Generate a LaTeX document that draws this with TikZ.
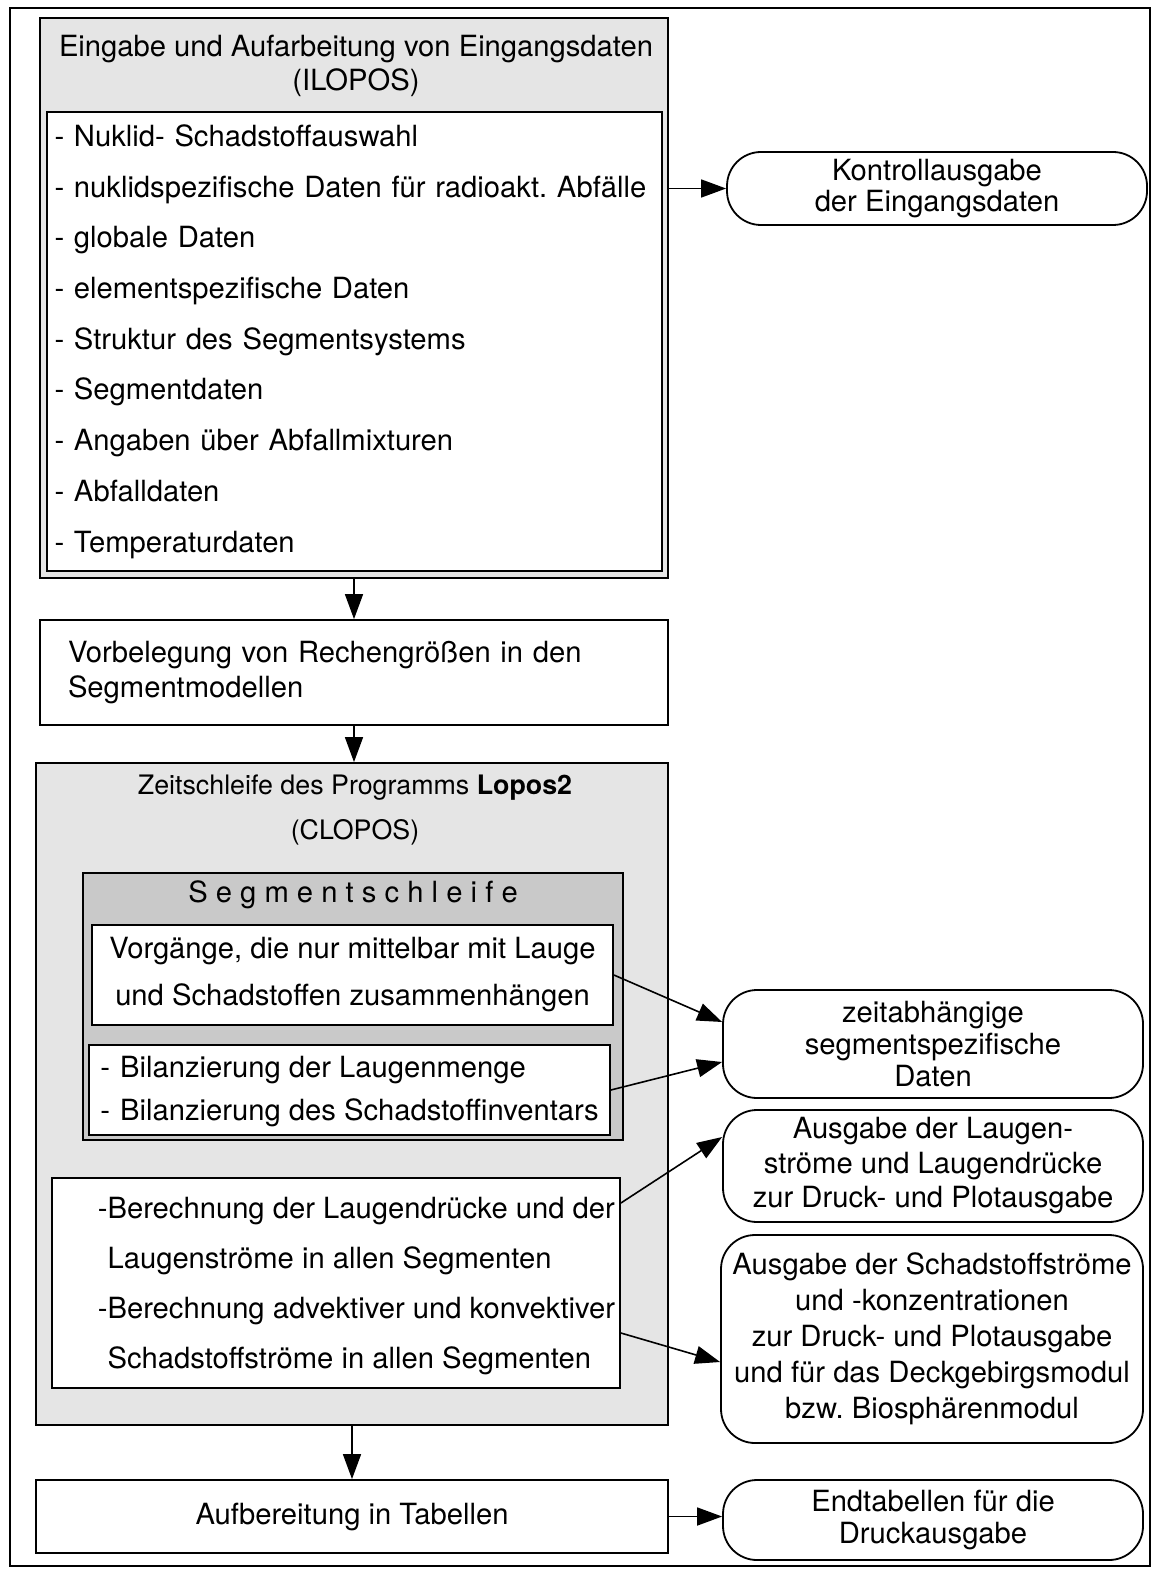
\documentclass[tikz,border=0pt]{standalone}
\usepackage{fontspec}
\setmainfont{TeX Gyre Heros}
\usetikzlibrary{arrows.meta}
\frenchspacing

\begin{document}
\begin{tikzpicture}[
  x=0.5pt,y=-0.5pt,
  frame/.style={draw,line width=1.4pt},
  shadebox/.style={draw,line width=0.9pt,fill=gray!20,inner sep=0pt},
  darkbox/.style={draw,line width=0.9pt,fill=gray!42,inner sep=0pt},
  whitebox/.style={draw,line width=0.9pt,fill=white,inner sep=0pt},
  outbox/.style={draw,line width=0.9pt,rounded corners=17pt,align=center,inner sep=0pt},
  txt/.style={font=\fontsize{14.6}{#1}\selectfont,inner sep=0pt},
  txt/.default=17pt,
  arr/.style={-{Triangle[length=12.5pt,width=9pt]},line width=0.8pt}
]
\useasboundingbox (0,0) rectangle (1154,1572);
\draw[frame] (10,8) rectangle (1150,1566);

% Eingabe (ILOPOS)
\node[shadebox,minimum width=314pt,minimum height=280pt] (ilopos) at (354,298) {};
\node[txt=17pt,align=center] (ilopostitle) at (356,66) {Eingabe und Aufarbeitung von Eingangsdaten\\(ILOPOS)};
\node[whitebox,txt=25.35pt,align=left,text width=300pt,inner xsep=3.75pt,minimum height=229.5pt] (inputs) at (354.5,341.5)
  {- Nuklid- Schadstoffauswahl\\
   - nuklidspezifische Daten für radioakt. Abfälle\\
   - globale Daten\\
   - elementspezifische Daten\\
   - Struktur des Segmentsystems\\
   - Segmentdaten\\
   - Angaben über Abfallmixturen\\
   - Abfalldaten\\
   - Temperaturdaten};
\node[outbox,txt=15.5pt,minimum width=210pt,minimum height=36.5pt] (kontroll) at (937,188.5) {Kontrollausgabe\\der Eingangsdaten};

% Vorbelegung
\node[whitebox,txt=17.5pt,align=left,text width=286pt,inner xsep=14pt,minimum height=52.5pt] (vorbel) at (354,672.5)
  {Vorbelegung von Rechengrößen in den\\Segmentmodellen};

% Zeitschleife (CLOPOS)
\node[shadebox,minimum width=316pt,minimum height=331pt] (clopos) at (352,1094) {};
\node[font=\fontsize{13.4}{22.5pt}\selectfont,align=center,inner sep=0pt] (clopostitle) at (355,810)
  {Zeitschleife des Programms \textbf{Lopos2}\\(CLOPOS)};

% Segmentschleife
\node[darkbox,minimum width=270pt,minimum height=133.5pt] (segloop) at (353,1006.5) {};
\node[txt] (segtitle) at (353,895) {S e g m e n t s c h l e i f e};
\node[whitebox,txt=23.5pt,align=center,minimum width=260.5pt,minimum height=50pt] (vorgaenge) at (352.5,975)
  {Vorgänge, die nur mittelbar mit Lauge\\und Schadstoffen zusammenhängen};
\node[whitebox,txt=21.5pt,minimum width=260.5pt,minimum height=45pt] (bilanz) at (349.5,1090)
  {\begin{tabular}{@{}l@{\hspace{5pt}}l@{}}
   -&Bilanzierung der Laugenmenge\\
   -&Bilanzierung des Schadstoffinventars
   \end{tabular}};

% Berechnung
\node[whitebox,txt=25pt,minimum width=284pt,minimum height=105pt] (calc) at (336,1283)
  {\begin{tabular}{@{\hspace{22pt}}l@{}l@{\hspace{1.5pt}}}
   -&Berechnung der Laugendrücke und der\\
    &Laugenströme in allen Segmenten\\
   -&Berechnung advektiver und konvektiver\\
    &Schadstoffströme in allen Segmenten
   \end{tabular}};

% Ausgaben
\node[outbox,txt=16pt,minimum width=210pt,minimum height=54pt] (zeit) at (933,1044)
  {zeitabhängige\\segmentspezifische\\Daten};
\node[outbox,txt=17.25pt,minimum width=210pt,minimum height=56pt] (laugen) at (933,1166)
  {Ausgabe der Laugen-\\ströme und Laugendrücke\\zur Druck- und Plotausgabe};
\node[outbox,txt=18pt,minimum width=211pt,minimum height=104pt] (schad) at (932,1339)
  {Ausgabe der Schadstoffströme\\und -konzentrationen\\zur Druck- und Plotausgabe\\und für das Deckgebirgsmodul\\bzw. Biosphärenmodul};

% Aufbereitung
\node[whitebox,txt,minimum width=316pt,minimum height=36.5pt] (aufb) at (352,1516.5) {Aufbereitung in Tabellen};
\node[outbox,txt=16pt,minimum width=210pt,minimum height=40pt] (endtab) at (933,1520) {Endtabellen für die\\Druckausgabe};

\draw[arr] (ilopos.east |- kontroll.west) -- (kontroll.west);
\draw[arr] (ilopos.south) -- (vorbel.north);
\draw[arr] (vorbel.south) -- (vorbel.south |- clopos.north);
\draw[arr] (vorgaenge.east) -- ([yshift=11pt]zeit.west);
\draw[arr] (bilanz.east) -- ([yshift=-9pt]zeit.west);
\draw[arr] ([yshift=40pt]calc.east) -- ([yshift=14.5pt]laugen.west);
\draw[arr] ([yshift=-25pt]calc.east) -- ([yshift=-11.5pt]schad.west);
\draw[arr] (clopos.south) -- (aufb.north);
\draw[arr] (aufb.east) -- (aufb.east -| endtab.west);
\end{tikzpicture}
\end{document}
